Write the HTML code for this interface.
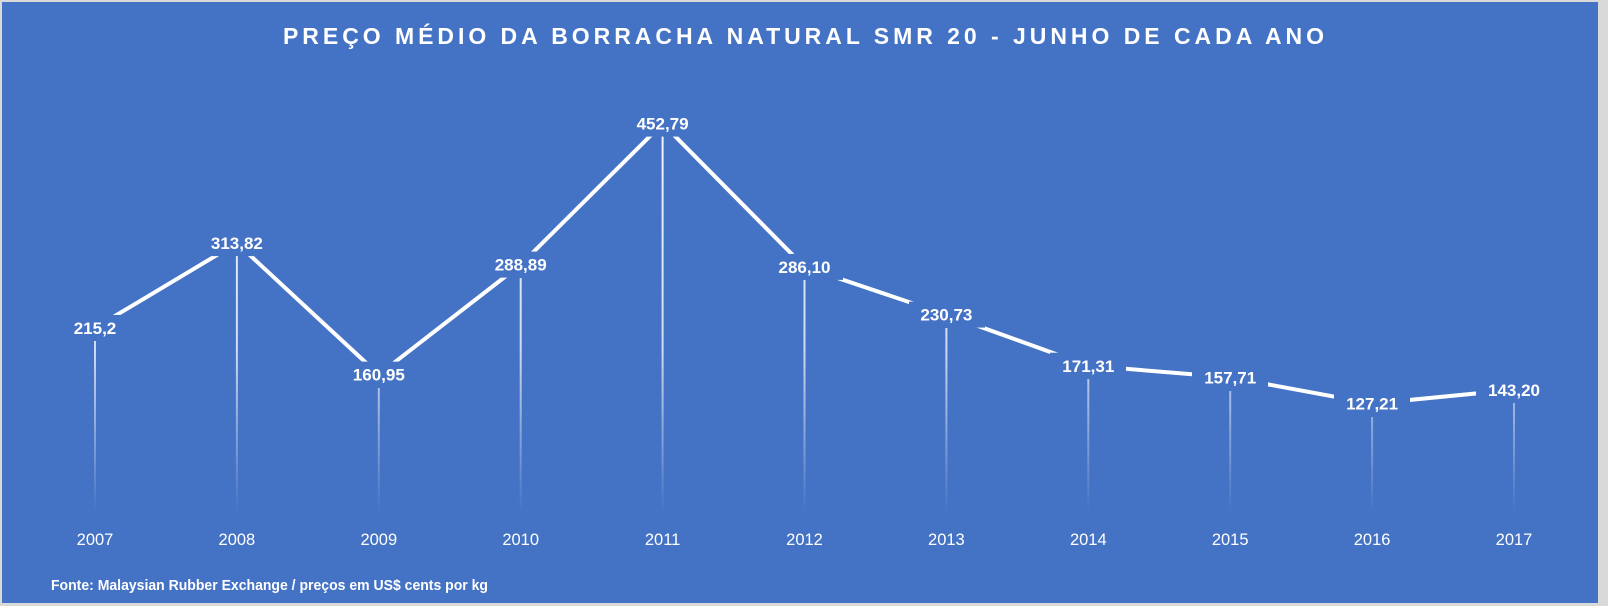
<!DOCTYPE html>
<html><head><meta charset="utf-8"><style>
html,body{margin:0;padding:0;background:#d9d9d9;}
svg{display:block;}
</style></head><body>
<svg width="1608" height="606" xmlns="http://www.w3.org/2000/svg" font-family="Liberation Sans, sans-serif">
<defs>
<linearGradient id="g" gradientUnits="userSpaceOnUse" x1="0" y1="100" x2="0" y2="513">
<stop offset="0" stop-color="#fff" stop-opacity="0.95"/>
<stop offset="0.6" stop-color="#fff" stop-opacity="0.75"/>
<stop offset="1" stop-color="#fff" stop-opacity="0"/>
</linearGradient>
</defs>
<rect x="0" y="0" width="1608" height="606" fill="#d9d9d9"/>
<rect x="2" y="2" width="1596" height="601" fill="#4472c4"/>
<text x="283" y="44" fill="#fff" font-size="23" font-weight="bold" textLength="1041" lengthAdjust="spacing">PREÇO MÉDIO DA BORRACHA NATURAL SMR 20 - JUNHO DE CADA ANO</text>
<g stroke-width="2" stroke="url(#g)">
<line x1="95" y1="341" x2="95" y2="513"/>
<line x1="236.9" y1="256" x2="236.9" y2="513"/>
<line x1="378.8" y1="388" x2="378.8" y2="513"/>
<line x1="520.7" y1="278" x2="520.7" y2="513"/>
<line x1="662.6" y1="136" x2="662.6" y2="513"/>
<line x1="804.5" y1="280" x2="804.5" y2="513"/>
<line x1="946.4" y1="328" x2="946.4" y2="513"/>
<line x1="1088.3" y1="379" x2="1088.3" y2="513"/>
<line x1="1230.2" y1="391" x2="1230.2" y2="513"/>
<line x1="1372.1" y1="417" x2="1372.1" y2="513"/>
<line x1="1514" y1="403" x2="1514" y2="513"/>
</g>
<polyline fill="none" stroke="#fff" stroke-width="4" stroke-linejoin="round" points="95,327.9 236.9,243.1 378.8,374.6 520.7,264.6 662.6,123.6 804.5,266.9 946.4,314.6 1088.3,365.7 1230.2,377.4 1372.1,403.6 1514,389.8"/>
<g fill="#4472c4">
<rect x="63" y="314.9" width="64" height="26"/>
<rect x="199" y="230.1" width="76" height="26"/>
<rect x="341" y="361.6" width="76" height="26"/>
<rect x="483" y="251.6" width="76" height="26"/>
<rect x="625" y="110.6" width="76" height="26"/>
<rect x="767" y="253.9" width="76" height="26"/>
<rect x="909" y="301.6" width="76" height="26"/>
<rect x="1050" y="352.7" width="76" height="26"/>
<rect x="1192" y="364.4" width="76" height="26"/>
<rect x="1334" y="390.6" width="76" height="26"/>
<rect x="1476" y="376.8" width="76" height="26"/>
</g>
<g fill="#fff" font-size="17" font-weight="bold" text-anchor="middle">
<text x="95" y="334">215,2</text>
<text x="236.9" y="249.2">313,82</text>
<text x="378.8" y="380.7">160,95</text>
<text x="520.7" y="270.7">288,89</text>
<text x="662.6" y="129.7">452,79</text>
<text x="804.5" y="273">286,10</text>
<text x="946.4" y="320.7">230,73</text>
<text x="1088.3" y="371.8">171,31</text>
<text x="1230.2" y="383.5">157,71</text>
<text x="1372.1" y="409.7">127,21</text>
<text x="1514" y="395.9">143,20</text>
</g>
<g fill="#fff" font-size="16.5" text-anchor="middle">
<text x="95" y="545">2007</text>
<text x="236.9" y="545">2008</text>
<text x="378.8" y="545">2009</text>
<text x="520.7" y="545">2010</text>
<text x="662.6" y="545">2011</text>
<text x="804.5" y="545">2012</text>
<text x="946.4" y="545">2013</text>
<text x="1088.3" y="545">2014</text>
<text x="1230.2" y="545">2015</text>
<text x="1372.1" y="545">2016</text>
<text x="1514" y="545">2017</text>
</g>
<text x="51" y="590" fill="#fff" font-size="15" font-weight="bold" textLength="437" lengthAdjust="spacingAndGlyphs">Fonte: Malaysian Rubber Exchange / preços em US$ cents por kg</text>
</svg>
</body></html>
